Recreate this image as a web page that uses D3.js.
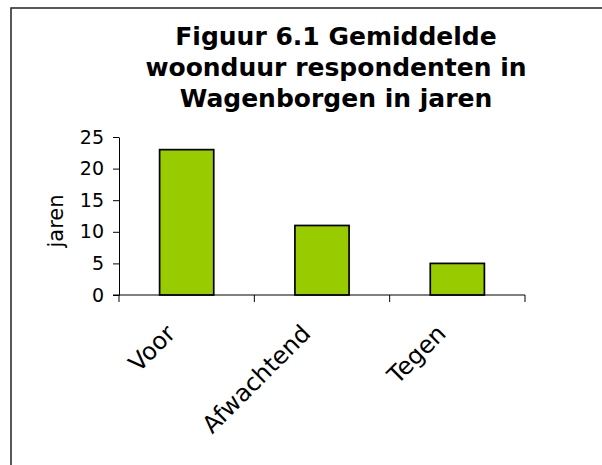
<!DOCTYPE html>
<html>
<head>
<meta charset="utf-8">
<script src="https://cdn.jsdelivr.net/npm/d3@7"></script>
<style>
  body { margin: 0; background: #fff; }
  text { font-family: "DejaVu Sans", Verdana, sans-serif; fill: #000; }
</style>
</head>
<body>
<div id="chart"></div>
<script>
const categories = ["Voor", "Afwachtend", "Tegen"];
const values = [23, 11, 5];
const yTicks = [0, 5, 10, 15, 20, 25];
const titleLines = ["Figuur 6.1 Gemiddelde", "woonduur respondenten in", "Wagenborgen in jaren"];
const yLabel = "jaren";

const width = 602;
const height = 465;
const plot = { left: 119, right: 525, top: 137, bottom: 295 };

const svg = d3.select("#chart")
    .append("svg")
    .attr("width", width)
    .attr("height", height);

// outer frame, runs past the right and bottom edges
svg.append("rect")
    .attr("x", 11)
    .attr("y", 8)
    .attr("width", 620)
    .attr("height", 500)
    .attr("fill", "none")
    .attr("stroke", "#222")
    .attr("stroke-width", 1.5);

const title = svg.append("text")
    .attr("text-anchor", "middle")
    .attr("font-weight", "bold")
    .attr("font-size", 25);
title.selectAll("tspan")
    .data(titleLines)
    .join("tspan")
    .attr("x", 336)
    .attr("y", (d, i) => 45 + i * 31)
    .text(d => d);

const x = d3.scaleBand(categories, [plot.left, plot.right])
    .paddingInner(0.6)
    .paddingOuter(0.3);

const y = d3.scaleLinear([0, 25], [plot.bottom, plot.top]);

svg.selectAll("rect.bar")
    .data(values)
    .join("rect")
    .attr("class", "bar")
    .attr("x", (d, i) => x(categories[i]))
    .attr("y", d => y(d))
    .attr("width", x.bandwidth())
    .attr("height", d => y(0) - y(d))
    .attr("fill", "#99cc00")
    .attr("stroke", "#000")
    .attr("stroke-width", 1.7);

// y axis
const yAxis = svg.append("g")
    .attr("transform", `translate(${plot.left},0)`)
    .call(d3.axisLeft(y).tickValues(yTicks).tickSize(6).tickSizeOuter(0).tickPadding(9));
yAxis.select(".domain").attr("stroke", "#000");
yAxis.selectAll(".tick line").attr("stroke", "#000");
yAxis.selectAll(".tick text")
    .attr("font-size", 19)
    .attr("font-family", "DejaVu Sans, Verdana, sans-serif");

// x axis: ticks between categories
const step = x.step();
const xTicks = d3.range(categories.length + 1).map(i => plot.left + i * step);
svg.append("line")
    .attr("x1", plot.left - 6)
    .attr("x2", plot.right)
    .attr("y1", plot.bottom)
    .attr("y2", plot.bottom)
    .attr("stroke", "#000");
svg.selectAll("line.xtick")
    .data(xTicks)
    .join("line")
    .attr("class", "xtick")
    .attr("x1", d => d)
    .attr("x2", d => d)
    .attr("y1", plot.bottom)
    .attr("y2", plot.bottom + 7)
    .attr("stroke", "#000");

svg.selectAll("text.cat")
    .data(categories)
    .join("text")
    .attr("class", "cat")
    .attr("text-anchor", "end")
    .attr("font-size", 24)
    .attr("transform", d => `translate(${x(d) + x.bandwidth() / 2 - 10},335) rotate(-45)`)
    .text(d => d);

svg.append("text")
    .attr("text-anchor", "middle")
    .attr("font-size", 21)
    .attr("transform", `translate(63,221) rotate(-90)`)
    .text(yLabel);
</script>
</body>
</html>
